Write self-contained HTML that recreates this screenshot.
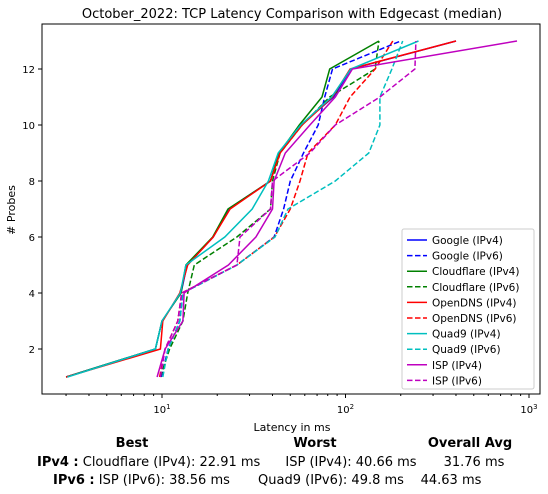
<!DOCTYPE html>
<html><head><meta charset="utf-8"><style>
body{margin:0;background:#fff;}
svg{display:block;font-family:"DejaVu Sans","Liberation Sans",sans-serif;}
</style></head><body>
<svg id="chart" width="548" height="494">
<text x="292" y="18" font-size="13" text-anchor="middle">October_2022: TCP Latency Comparison with Edgecast (median)</text>
<g id="plot"></g>
<g id="axes"></g>
<text x="292" y="431" font-size="11" text-anchor="middle">Latency in ms</text>
<text x="15" y="210" font-size="11" text-anchor="middle" transform="rotate(-90 15 210)"># Probes</text>
<g font-size="13">
<text x="132" y="447" font-weight="bold" text-anchor="middle">Best</text>
<text x="315" y="447" font-weight="bold" text-anchor="middle">Worst</text>
<text x="470" y="447" font-weight="bold" text-anchor="middle">Overall Avg</text>
<text x="37" y="466"><tspan font-weight="bold">IPv4 :</tspan> Cloudflare (IPv4): 22.91 ms</text>
<text x="351" y="466" text-anchor="middle">ISP (IPv4): 40.66 ms</text>
<text x="474" y="466" text-anchor="middle">31.76 ms</text>
<text x="53" y="484"><tspan font-weight="bold">IPv6 :</tspan> ISP (IPv6): 38.56 ms</text>
<text x="331" y="484" text-anchor="middle">Quad9 (IPv6): 49.8 ms</text>
<text x="451" y="484" text-anchor="middle">44.63 ms</text>
</g>
<g id="legend"></g>
</svg>
<script>
const probes=[1,2,3,4,5,6,7,8,9,10,11,12,13];
const seriesNames=["Google (IPv4)","Google (IPv6)","Cloudflare (IPv4)","Cloudflare (IPv6)","OpenDNS (IPv4)","OpenDNS (IPv6)","Quad9 (IPv4)","Quad9 (IPv6)","ISP (IPv4)","ISP (IPv6)"];
const googleV4=[3.0,9.2,10,12.7,13.7,19,23,39,43.5,57,86,107,400];
const googleV6=[9.9,10.8,12.5,13,25.6,40.8,46,50,59,71,77,85,200];
const cloudflareV4=[3.0,9.2,10,12.7,13.5,18.9,22.9,39,43.5,56,74.5,82,152];
const cloudflareV6=[9.8,11,13,13.8,15,25.6,39,40,44,58,82,145,152];
const opendnsV4=[3.0,9.8,10.1,12.5,13.8,19,23.5,39,44,58,85,106,400];
const opendnsV6=[9.7,10.4,12.2,12.8,25.6,41,50,56.5,62.5,88,106,145,181];
const quad9V4=[3.05,9.2,10,12.6,13.5,22,31,38,43,57,84,107,250];
const quad9V6=[10.1,10.8,12.5,13,25.6,41.3,48.6,88,134,154,154,179,205];
const ispV4=[9.4,10.4,13,13.2,23,32.5,40,40.8,47,64,88,109,860];
const ispV6=[9.8,10.4,12.2,12.8,25.6,26.6,39,40,64,88,154,239,242];
const yTicks=[2,4,6,8,10,12];
const xDecades=[1,2,3];

const NS="http://www.w3.org/2000/svg";
const L=42,R=540,T=24,B=394;
function xs(v){return 162+(Math.log10(v)-1)*183.5;}
function ys(v){return 405-v*28;}
function mk(tag,attrs,parent){const e=document.createElementNS(NS,tag);for(const k in attrs)e.setAttribute(k,attrs[k]);parent.appendChild(e);return e;}

const axes=document.getElementById('axes');
const frame=mk('rect',{x:L,y:T,width:R-L,height:B-T,fill:'none',stroke:'#000','stroke-width':1},axes);


yTicks.forEach(t=>{
  const y=ys(t);
  mk('line',{x1:L-4,x2:L,y1:y,y2:y,stroke:'#000'},axes);
  const tx=mk('text',{x:L-7,y:y+4,'font-size':10,'text-anchor':'end'},axes);
  tx.textContent=t;
  
  
});
for(let d=0;d<=3;d++){
  for(let m=1;m<10;m++){
    const v=m*Math.pow(10,d);const x=xs(v);
    if(x<L||x>R)continue;
    mk('line',{x1:x,x2:x,y1:B,y2:B+(m===1?4:2),stroke:'#000'},axes);
  }
}
xDecades.forEach(p=>{
  const x=xs(Math.pow(10,p));
  const tx=mk('text',{x:x,y:413,'font-size':10,'text-anchor':'middle'},axes);
  tx.innerHTML='10<tspan dy="-4" font-size="7">'+p+'</tspan>';
  
  
});

const data=[googleV4,googleV6,cloudflareV4,cloudflareV6,opendnsV4,opendnsV6,quad9V4,quad9V6,ispV4,ispV6];
const colors=['#0000ff','#0000ff','#008000','#008000','#ff0000','#ff0000','#00bfbf','#00bfbf','#bf00bf','#bf00bf'];
const plot=document.getElementById('plot');
data.forEach((s,i)=>{
  const pts=s.map((v,j)=>xs(v).toFixed(1)+','+ys(probes[j]).toFixed(1)).join(' ');
  const pl=mk('polyline',{points:pts,fill:'none',stroke:colors[i],'stroke-width':1.5},plot);
  if(i%2===1)pl.setAttribute('stroke-dasharray','5.5,2.5');
  
  
});

const leg=document.getElementById('legend');
const lb=mk('rect',{x:402,y:229,width:132,height:160,fill:'#fff',stroke:'#ccc',rx:2},leg);


seriesNames.forEach((n,i)=>{
  const y=240+i*15.6;
  const ln=mk('line',{x1:407,x2:427,y1:y,y2:y,stroke:colors[i],'stroke-width':1.5},leg);
  if(i%2===1)ln.setAttribute('stroke-dasharray','5.5,2.5');
  
  
  const tx=mk('text',{x:432,y:y+4,'font-size':10.5},leg);
  tx.textContent=n;
  
  
});
</script>
</body></html>
